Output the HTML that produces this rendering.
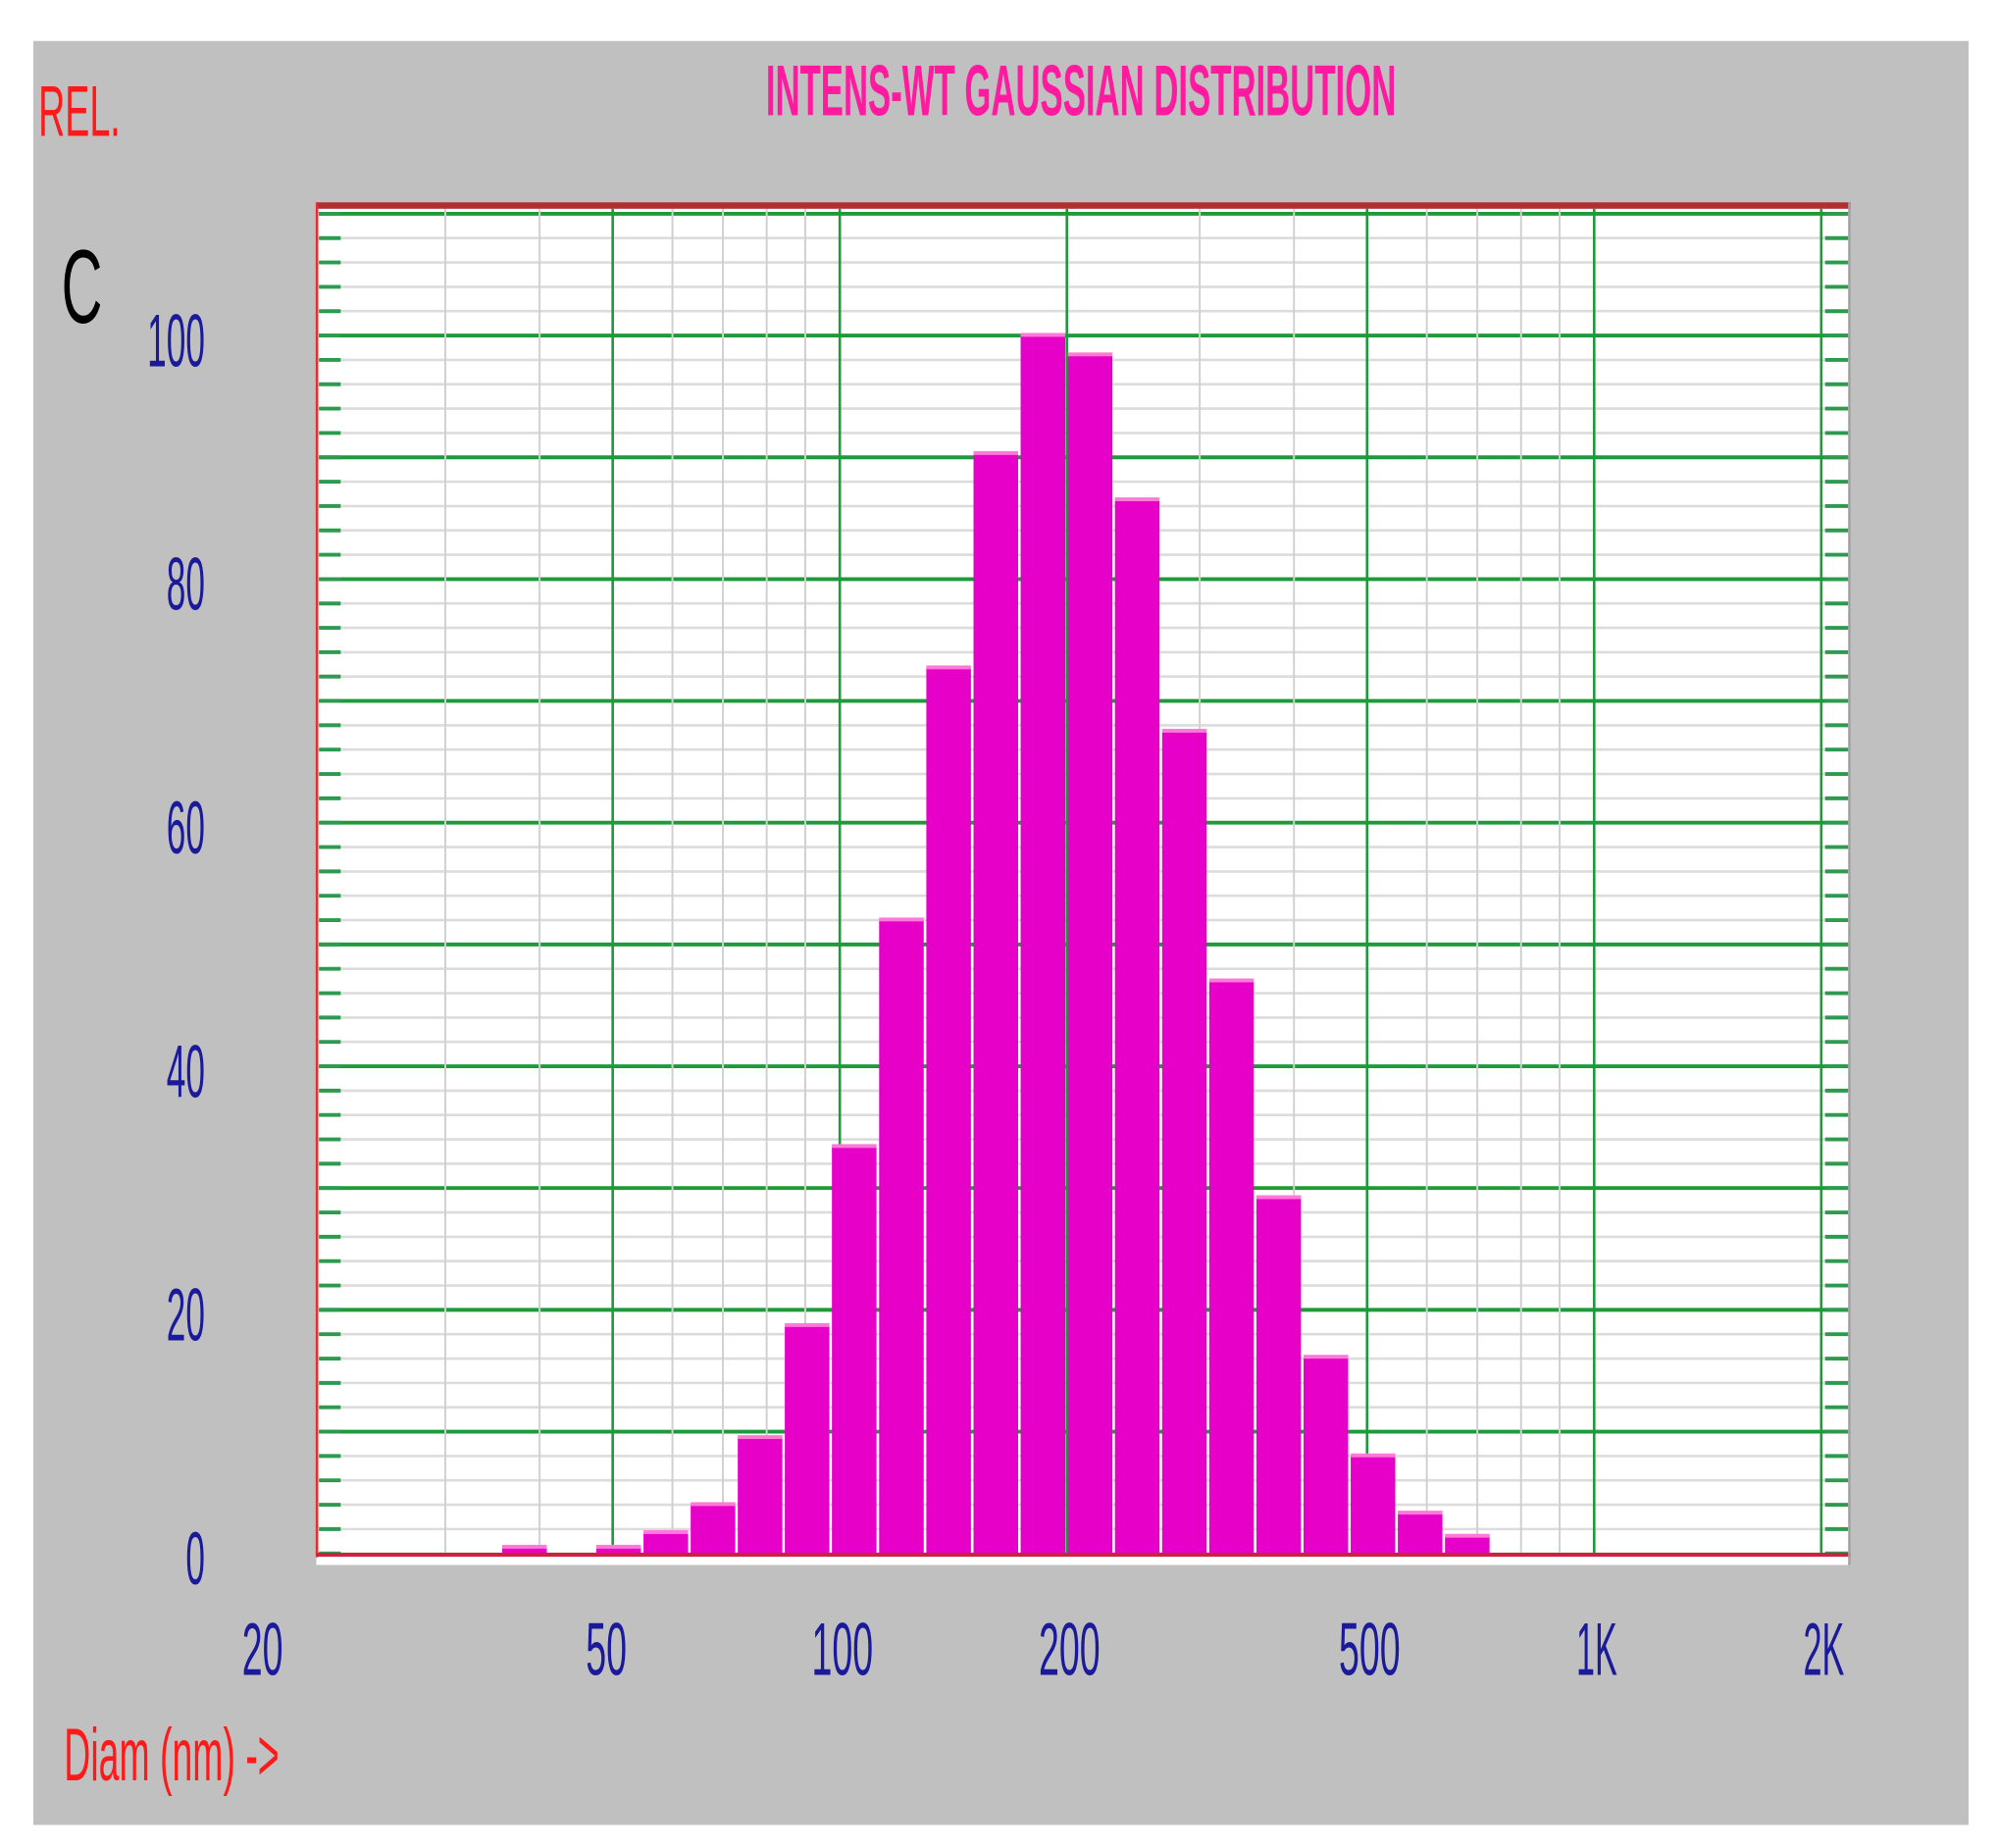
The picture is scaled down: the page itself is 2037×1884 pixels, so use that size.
<!DOCTYPE html>
<html><head><meta charset="utf-8"><style>
html,body{margin:0;padding:0;background:#fff;}
svg{display:block;}
text{font-family:"Liberation Sans",sans-serif;}
</style></head><body>
<svg id="chart" width="2037" height="1884" viewBox="0 0 1560 1443" preserveAspectRatio="none" xmlns="http://www.w3.org/2000/svg">
<rect x="26" y="32" width="1511" height="1393" fill="#c0c0c0"/>
<rect x="247" y="160" width="1198" height="1062" fill="#ffffff"/>
<g id="grid"></g>
<g id="bars"></g>
<g id="frame"></g>
<text x="598" y="90" font-size="56" font-weight="bold" fill="#ff1aa0" textLength="492" lengthAdjust="spacingAndGlyphs">INTENS-WT GAUSSIAN DISTRIBUTION</text>
<text x="30" y="106" font-size="56" fill="#ff1a1a" textLength="64" lengthAdjust="spacingAndGlyphs">REL.</text>
<text x="48" y="252" font-size="82" fill="#000" textLength="32" lengthAdjust="spacingAndGlyphs">C</text>
<text x="50" y="1390" font-size="58" fill="#ff1a1a" textLength="168" lengthAdjust="spacingAndGlyphs">Diam (nm) -&gt;</text>
<g id="labels"></g>
</svg>
<script>
const diameters = [38.2, 44.1, 50.9, 58.8, 67.9, 78.4, 90.5, 104.5, 120.7, 139.4, 161.0, 185.9, 214.7, 247.9, 286.3, 330.6, 381.8, 440.9, 509.1, 587.9, 678.9];
const intensities = [0.5, 0, 0.5, 1.7, 4.0, 9.5, 18.7, 33.4, 52, 72.7, 90.3, 100, 98.4, 86.5, 67.5, 47, 29.2, 16.1, 8.0, 3.3, 1.4];
const yTicks = [0, 20, 40, 60, 80, 100];
const xTicks = [20, 50, 100, 200, 500, 1000, 2000];
const xTickLabels = ["20", "50", "100", "200", "500", "1K", "2K"];
const xMinor = [30, 40, 60, 70, 80, 90, 300, 400, 600, 700, 800, 900];

const NS = "http://www.w3.org/2000/svg";
const X0 = 244, DEC = 589, Y0 = 1213, PER = 9.51;
const binRatio = 1.1548;
function xs(d){ return X0 + (Math.log10(d) - Math.log10(20)) * DEC; }
function ys(v){ return Y0 - v * PER; }
function mk(tag, attrs, parent){
  const e = document.createElementNS(NS, tag);
  for (const k in attrs) e.setAttribute(k, attrs[k]);
  parent.appendChild(e);
  return e;
}
const grid = document.getElementById('grid');
const bars = document.getElementById('bars');
const frame = document.getElementById('frame');
const labels = document.getElementById('labels');

for (let v = 0; v <= 112; v += 2) {
  const y = ys(v);
  if (y < 163) break;
  const major = v % 10 === 0 && v > 0;
  const l = mk('line', {x1: 249, x2: 1443, y1: y, y2: y, stroke: major ? '#1f9a3a' : '#dcdcdc', 'stroke-width': major ? 3 : 2}, grid);
  
  
  const t1 = mk('line', {x1: 249, x2: 266, y1: y, y2: y, stroke: '#2e9a50', 'stroke-width': 3}, grid);
  
  
  const t2 = mk('line', {x1: 1425, x2: 1443, y1: y, y2: y, stroke: '#2e9a50', 'stroke-width': 3}, grid);
  
  
}
xMinor.forEach(d => {
  const l = mk('line', {x1: xs(d), x2: xs(d), y1: 163, y2: 1213, stroke: '#d0d0d0', 'stroke-width': 1.5}, grid);
  
  
});
xTicks.forEach(d => {
  if (d === 20) return;
  const l = mk('line', {x1: xs(d), x2: xs(d), y1: 163, y2: 1213, stroke: '#1f9a3a', 'stroke-width': 2}, grid);
  
  
});
diameters.forEach((d, i) => {
  const v = intensities[i];
  if (v <= 0) return;
  const xl = xs(d / Math.sqrt(binRatio)), xr = xs(d * Math.sqrt(binRatio));
  const r = mk('rect', {x: xl + 1, y: ys(v), width: xr - xl - 2, height: Y0 - ys(v), fill: '#e600c8'}, bars);
  
  
  const c = mk('rect', {x: xl + 1, y: ys(v) - 2, width: xr - xl - 2, height: 3, fill: '#ff7ad8'}, bars);
  
  
});
const f1 = mk('rect', {x: 247, y: 158, width: 1198, height: 5, fill: '#b03030'}, frame);


const f2 = mk('line', {x1: 247.5, x2: 247.5, y1: 158, y2: 1216, stroke: '#e03030', 'stroke-width': 2}, frame);


const f3 = mk('line', {x1: 247, x2: 1445, y1: 1214, y2: 1214, stroke: '#d02040', 'stroke-width': 3}, frame);


const f4 = mk('line', {x1: 1444, x2: 1444, y1: 158, y2: 1222, stroke: '#a0a0a0', 'stroke-width': 2}, frame);


yTicks.forEach(v => {
  const s = String(v);
  const t = mk('text', {x: 160, y: ys(v) + 24, 'font-size': 58, fill: '#1a1a9a', 'text-anchor': 'end', textLength: s.length * 15, lengthAdjust: 'spacingAndGlyphs'}, labels);
  t.textContent = s;
  
  
});
xTicks.forEach((d, i) => {
  const s = xTickLabels[i];
  const cx = d === 20 ? 205 : xs(d) + (d === 50 ? -5 : 2);
  const t = mk('text', {x: cx, y: 1308, 'font-size': 58, fill: '#1a1a9a', 'text-anchor': 'middle', textLength: s.length * 16, lengthAdjust: 'spacingAndGlyphs'}, labels);
  t.textContent = s;
  
  
});
</script>
</body></html>
